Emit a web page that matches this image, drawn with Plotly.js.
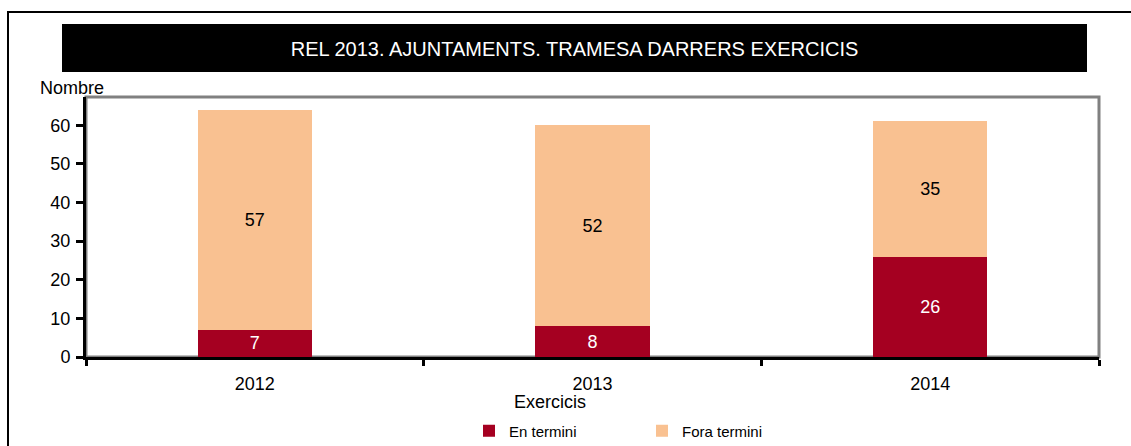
<!DOCTYPE html>
<html>
<head>
<meta charset="utf-8">
<script src="https://cdn.plot.ly/plotly-3.0.1.min.js"></script>
<style>html,body{margin:0;padding:0;background:#fff;}#chart{width:1131px;height:446px;}</style>
</head>
<body>
<div id="chart"></div>
<script>
var years = ['2012', '2013', '2014'];
var enTermini = [7, 8, 26];
var foraTermini = [57, 52, 35];
var seriesNames = ['En termini', 'Fora termini'];
var chartTitle = 'REL 2013. AJUNTAMENTS. TRAMESA DARRERS EXERCICIS';
var yTitle = 'Nombre';
var xTitle = 'Exercicis';

var FONT = '"Liberation Sans Narrow", "Arial Narrow", "Liberation Sans", Arial, sans-serif';
var RED = '#A50021';
var ORANGE = '#F9C191';

var L = 86, R = 32, T = 97, B = 89;
var W = 1131 - L - R, H = 446 - T - B;
function px(x) { return (x - L) / W; }
function py(y) { return (446 - B - y) / H; }

var traces = [
  {
    type: 'bar', name: seriesNames[0], x: years, y: enTermini,
    marker: {color: RED, line: {width: 0}},
    text: enTermini.map(String), textposition: 'inside', insidetextanchor: 'middle',
    textangle: 0, constraintext: 'none',
    textfont: {family: FONT, size: 18, color: '#ffffff'},
    hoverinfo: 'skip'
  },
  {
    type: 'bar', name: seriesNames[1], x: years, y: foraTermini,
    marker: {color: ORANGE, line: {width: 0}},
    text: foraTermini.map(String), textposition: 'inside', insidetextanchor: 'middle',
    textangle: 0, constraintext: 'none',
    textfont: {family: FONT, size: 18, color: '#000000'},
    hoverinfo: 'skip'
  }
];

var layout = {
  width: 1131, height: 446,
  margin: {l: L, r: R, t: T, b: B, pad: 0, autoexpand: false},
  paper_bgcolor: '#ffffff', plot_bgcolor: '#ffffff',
  font: {family: FONT, size: 18, color: '#000000'},
  barmode: 'stack', bargap: 0.662,
  title: {
    text: chartTitle, x: px(574.5), xref: 'paper', xanchor: 'center',
    y: 1 - 49 / 446, yref: 'container', yanchor: 'middle',
    font: {family: FONT, size: 20, color: '#ffffff'},
    automargin: false
  },
  xaxis: {
    type: 'category', showgrid: false, zeroline: false,
    showline: true, linecolor: '#000000', linewidth: 3,
    ticks: 'outside', tickson: 'boundaries', ticklen: 6, tickwidth: 3, tickcolor: '#000000',
    tickfont: {family: FONT, size: 18, color: '#000000'},
    ticklabelstandoff: 8, automargin: false,
    fixedrange: true
  },
  yaxis: {
    range: [0, 67.3], tickvals: [0, 10, 20, 30, 40, 50, 60],
    showgrid: false, zeroline: false,
    showline: true, linecolor: '#000000', linewidth: 3,
    ticks: 'outside', ticklen: 7, tickwidth: 3, tickcolor: '#000000',
    tickfont: {family: FONT, size: 18, color: '#000000'},
    ticklabelstandoff: 2, automargin: false,
    fixedrange: true
  },
  showlegend: true,
  legend: {
    orientation: 'h', x: px(469), xanchor: 'left', y: py(431), yanchor: 'middle',
    font: {family: FONT, size: 15, color: '#000000'},
    entrywidth: 128, entrywidthmode: 'pixels', itemwidth: 30,
    traceorder: 'normal', bgcolor: 'rgba(0,0,0,0)'
  },
  shapes: [
    {type: 'rect', xref: 'paper', yref: 'paper', x0: px(8), x1: px(1300), y0: py(12), y1: py(700),
     line: {color: '#000000', width: 2}, fillcolor: 'rgba(0,0,0,0)', layer: 'below'},
    {type: 'rect', xref: 'paper', yref: 'paper', x0: px(62), x1: px(1087), y0: py(24), y1: py(72),
     line: {width: 0}, fillcolor: '#000000', layer: 'below'},
    {type: 'rect', xref: 'paper', yref: 'paper', x0: 0, x1: 1, y0: 0, y1: 1,
     line: {color: '#808080', width: 3}, fillcolor: 'rgba(0,0,0,0)', layer: 'below'}
  ],
  annotations: [
    {text: yTitle, xref: 'paper', yref: 'paper', x: px(38), y: py(88), xanchor: 'left', yanchor: 'middle',
     showarrow: false, font: {family: FONT, size: 18, color: '#000000'}},
    {text: xTitle, xref: 'paper', yref: 'paper', x: px(550), y: py(402), xanchor: 'center', yanchor: 'middle',
     showarrow: false, font: {family: FONT, size: 18, color: '#000000'}}
  ]
};

Plotly.newPlot('chart', traces, layout, {displayModeBar: false, staticPlot: true});
</script>
</body>
</html>
